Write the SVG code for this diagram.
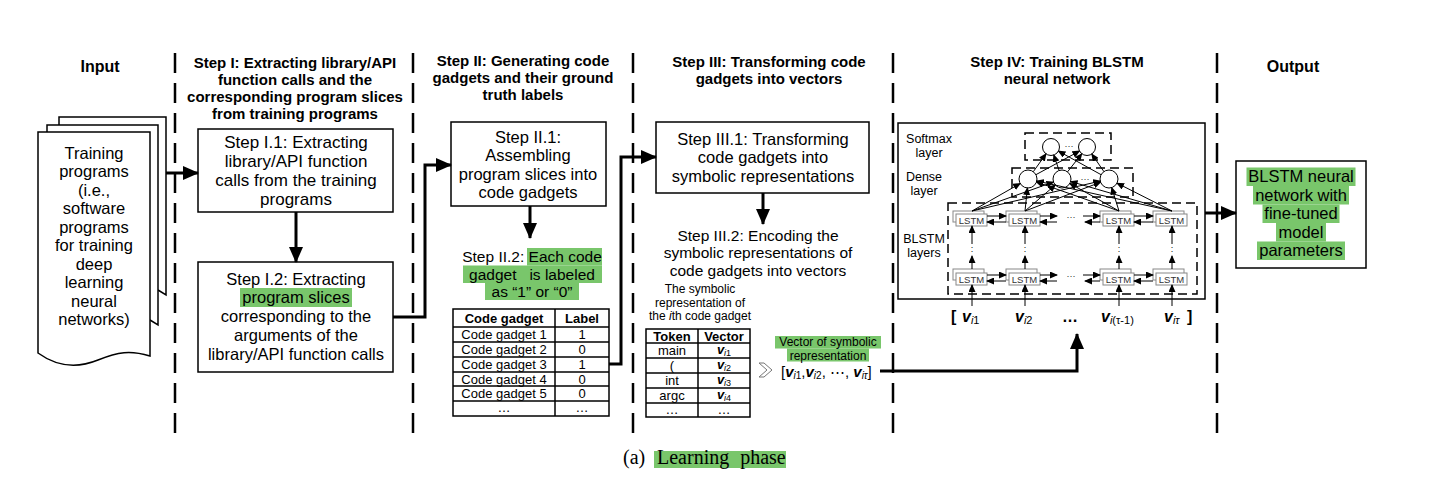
<svg xmlns="http://www.w3.org/2000/svg" width="1448" height="488" viewBox="0 0 1448 488">
<style>
text{font-family:"Liberation Sans",Arial,sans-serif;fill:#000}
.t{font-size:16.5px;text-anchor:middle}
.t17{font-size:17px;text-anchor:middle}
.t15{font-size:15.5px;text-anchor:middle}
.h{font-size:15px;font-weight:bold;text-anchor:middle}
.h16{font-size:16px;font-weight:bold;text-anchor:middle}
.s{font-size:12px;text-anchor:middle}
.n{font-size:12.5px;text-anchor:middle}
.tb{font-size:13px;text-anchor:middle}
.tbh{font-size:13px;font-weight:bold;text-anchor:middle}
.ls{font-size:9.5px;text-anchor:middle;fill:#333}
.cap{font-family:"Liberation Serif","Times New Roman",serif;font-size:20px}
.box{fill:#fff;stroke:#000;stroke-width:1.5}
.cell{fill:none;stroke:#000;stroke-width:1.5}
.dash{fill:none;stroke:#000;stroke-width:2.5;stroke-dasharray:20 10}
.ndash{fill:none;stroke:#000;stroke-width:1.5;stroke-dasharray:9 5}
.hl{fill:#79c66b}
.conn{fill:none;stroke:#000;stroke-width:3}
.thin{fill:none;stroke:#000;stroke-width:1}
.lstm{fill:#fff;stroke:#888;stroke-width:1}
.circ{fill:#fff;stroke:#000;stroke-width:1}
.vb{font-weight:bold;font-style:italic}
</style>
<defs>
<marker id="ah" markerUnits="userSpaceOnUse" markerWidth="16" markerHeight="14" refX="15" refY="7" orient="auto"><path d="M0,0 L16,7 L0,14 Z" fill="#000"/></marker>
<marker id="sa" markerUnits="userSpaceOnUse" markerWidth="8" markerHeight="7" refX="7" refY="3.5" orient="auto"><path d="M0,0 L8,3.5 L0,7 Z" fill="#000"/></marker>
</defs>

<g id="separators">
<line class="dash" x1="175" y1="53" x2="175" y2="443"/>
<line class="dash" x1="413" y1="53" x2="413" y2="443"/>
<line class="dash" x1="633" y1="53" x2="633" y2="443"/>
<line class="dash" x1="893" y1="53" x2="893" y2="443"/>
<line class="dash" x1="1217" y1="53" x2="1217" y2="443"/>
</g>

<g id="headers">
<text class="h16" x="100" y="72">Input</text>
<text class="h" x="295" y="68">Step I: Extracting library/API</text>
<text class="h" x="295" y="85">function calls and the</text>
<text class="h" x="295" y="102">corresponding program slices</text>
<text class="h" x="295" y="119">from training programs</text>
<text class="h" x="523" y="66">Step II: Generating code</text>
<text class="h" x="523" y="83">gadgets and their ground</text>
<text class="h" x="523" y="100">truth labels</text>
<text class="h" x="769" y="67">Step III: Transforming code</text>
<text class="h" x="769" y="84">gadgets into vectors</text>
<text class="h" x="1057" y="67">Step IV: Training BLSTM</text>
<text class="h" x="1057" y="84">neural network</text>
<text class="h16" x="1293" y="72">Output</text>
</g>

<g id="input-doc">
<path class="box" d="M59,125 V117 H166 V295 L158,290"/>
<path class="box" d="M47,132 V125 H158 V325 L150,320"/>
<path class="box" d="M38,132 H150 V356 C130,350 118,352 98,360 C76,369 56,366 38,353 Z"/>
<text class="t" x="94" y="158.5">Training</text>
<text class="t" x="94" y="177">programs</text>
<text class="t" x="94" y="195.5">(i.e.,</text>
<text class="t" x="94" y="214">software</text>
<text class="t" x="94" y="232.5">programs</text>
<text class="t" x="94" y="251">for training</text>
<text class="t" x="94" y="269.5">deep</text>
<text class="t" x="94" y="288">learning</text>
<text class="t" x="94" y="306.5">neural</text>
<text class="t" x="94" y="325">networks)</text>
</g>

<g id="step-i1">
<rect class="box" x="198" y="129" width="195" height="83"/>
<text class="t17" x="296" y="147.5">Step I.1: Extracting</text>
<text class="t17" x="296" y="166.5">library/API function</text>
<text class="t17" x="296" y="185.5">calls from the training</text>
<text class="t17" x="296" y="204.5">programs</text>
</g>

<g id="step-i2">
<rect class="box" x="198" y="262" width="195" height="110"/>
<rect class="hl" x="240" y="288" width="112" height="19"/>
<text class="t" x="296" y="284.5">Step I.2: Extracting</text>
<text class="t" x="296" y="303.2">program slices</text>
<text class="t" x="296" y="322">corresponding to the</text>
<text class="t" x="296" y="340.7">arguments of the</text>
<text class="t" x="296" y="359.5">library/API function calls</text>
</g>

<g id="step-ii1">
<rect class="box" x="451" y="122" width="155" height="84"/>
<text class="t" x="528" y="142.5">Step II.1:</text>
<text class="t" x="528" y="161">Assembling</text>
<text class="t" x="528" y="179.5">program slices into</text>
<text class="t" x="528" y="198">code gadgets</text>
</g>

<g id="step-ii2">
<rect class="hl" x="527" y="248" width="75" height="17.5"/>
<rect class="hl" x="463" y="265.5" width="139" height="17.5"/>
<rect class="hl" x="485" y="283" width="94" height="17"/>
<text class="t15" x="532" y="262">Step II.2: Each code</text>
<text class="t15" x="532" y="279.5" xml:space="preserve">gadget   is labeled</text>
<text class="t15" x="532" y="297">as “1” or “0”</text>
</g>

<g id="label-table">
<rect class="cell" x="453" y="309" width="156" height="107"/>
<line class="cell" x1="555" y1="309" x2="555" y2="416"/>
<line class="cell" x1="453" y1="327" x2="609" y2="327"/>
<line class="cell" x1="453" y1="342" x2="609" y2="342"/>
<line class="cell" x1="453" y1="357" x2="609" y2="357"/>
<line class="cell" x1="453" y1="372" x2="609" y2="372"/>
<line class="cell" x1="453" y1="386" x2="609" y2="386"/>
<line class="cell" x1="453" y1="401" x2="609" y2="401"/>
<text class="tbh" x="504" y="322.5">Code gadget</text>
<text class="tbh" x="582" y="322.5">Label</text>
<text class="tb" x="504" y="339">Code gadget 1</text><text class="tb" x="582" y="339">1</text>
<text class="tb" x="504" y="354">Code gadget 2</text><text class="tb" x="582" y="354">0</text>
<text class="tb" x="504" y="369">Code gadget 3</text><text class="tb" x="582" y="369">1</text>
<text class="tb" x="504" y="383.5">Code gadget 4</text><text class="tb" x="582" y="383.5">0</text>
<text class="tb" x="504" y="398">Code gadget 5</text><text class="tb" x="582" y="398">0</text>
<text class="tb" x="504" y="412">…</text><text class="tb" x="582" y="412">…</text>
</g>

<g id="step-iii1">
<rect class="box" x="656" y="122" width="213" height="71"/>
<text class="t" x="763" y="144.5">Step III.1: Transforming</text>
<text class="t" x="763" y="163">code gadgets into</text>
<text class="t" x="763" y="181.5">symbolic representations</text>
</g>

<g id="step-iii2">
<text class="t15" x="758" y="240.5">Step III.2: Encoding the</text>
<text class="t15" x="758" y="258">symbolic representations of</text>
<text class="t15" x="758" y="275.5">code gadgets into vectors</text>
<text class="s" x="700" y="293">The symbolic</text>
<text class="s" x="700" y="306.5">representation of</text>
<text class="s" x="700" y="320">the <tspan font-style="italic">i</tspan>th code gadget</text>
</g>

<g id="token-table">
<rect class="cell" x="646" y="329" width="104" height="88"/>
<line class="cell" x1="698" y1="329" x2="698" y2="417"/>
<line class="cell" x1="646" y1="343" x2="750" y2="343"/>
<line class="cell" x1="646" y1="358" x2="750" y2="358"/>
<line class="cell" x1="646" y1="373" x2="750" y2="373"/>
<line class="cell" x1="646" y1="388" x2="750" y2="388"/>
<line class="cell" x1="646" y1="403" x2="750" y2="403"/>
<text class="tbh" x="672" y="340.5">Token</text>
<text class="tbh" x="724" y="340.5">Vector</text>
<text class="tb" x="672" y="355">main</text>
<text class="tb" x="672" y="370">(</text>
<text class="tb" x="672" y="385">int</text>
<text class="tb" x="672" y="400">argc</text>
<text class="tb" x="672" y="414">…</text>
<text class="tb" x="724" y="354"><tspan class="vb">v</tspan><tspan font-size="9" font-style="italic" dy="2">i</tspan><tspan font-size="9">1</tspan></text>
<text class="tb" x="724" y="369"><tspan class="vb">v</tspan><tspan font-size="9" font-style="italic" dy="2">i</tspan><tspan font-size="9">2</tspan></text>
<text class="tb" x="724" y="384"><tspan class="vb">v</tspan><tspan font-size="9" font-style="italic" dy="2">i</tspan><tspan font-size="9">3</tspan></text>
<text class="tb" x="724" y="399"><tspan class="vb">v</tspan><tspan font-size="9" font-style="italic" dy="2">i</tspan><tspan font-size="9">4</tspan></text>
<text class="tb" x="724" y="414">…</text>
</g>

<g id="vector-rep">
<path d="M759,363 H764 L772,370 L764,377 H759 L767,370 Z" fill="#fff" stroke="#777" stroke-width="1"/>
<rect class="hl" x="775" y="336" width="106" height="12.5"/>
<rect class="hl" x="787" y="348.5" width="82" height="13"/>
<text class="s" x="828" y="346">Vector of symbolic</text>
<text class="s" x="828" y="359.5">representation</text>
<text x="781" y="377" font-size="15">[<tspan class="vb">v</tspan><tspan font-size="10" font-style="italic" dy="2">i</tspan><tspan font-size="10">1</tspan><tspan dy="-2">,</tspan><tspan class="vb">v</tspan><tspan font-size="10" font-style="italic" dy="2">i</tspan><tspan font-size="10">2</tspan><tspan dy="-2">, ⋯, </tspan><tspan class="vb">v</tspan><tspan font-size="10" font-style="italic" dy="2">iτ</tspan><tspan dy="-2">]</tspan></text>
</g>

<g id="step-iv-network">
<rect class="box" x="898" y="123" width="307" height="176"/>
<text class="n" x="929" y="143">Softmax</text>
<text class="n" x="929" y="157">layer</text>
<text class="n" x="924" y="181">Dense</text>
<text class="n" x="924" y="195">layer</text>
<text class="n" x="924" y="242.5">BLSTM</text>
<text class="n" x="924" y="256.5">layers</text>
<rect class="ndash" x="1025" y="133" width="86" height="27"/>
<rect class="ndash" x="1012" y="168" width="121" height="29"/>
<rect class="ndash" x="948" y="203" width="249" height="91"/>
<g id="softmax-nodes">
<circle class="circ" cx="1051" cy="147" r="8.5"/>
<circle class="circ" cx="1087" cy="147" r="8.5"/>
<text class="ls" x="1069" y="147" fill="#000">…</text>
</g>
<g id="dense-nodes">
<circle class="circ" cx="1028" cy="179" r="9"/>
<circle class="circ" cx="1062" cy="179" r="9"/>
<circle class="circ" cx="1109" cy="179" r="9"/>
<text class="ls" x="1085" y="180">…</text>
</g>
<g id="lstm-top">
<rect class="lstm" x="953" y="211" width="31" height="11"/><rect class="lstm" x="956" y="214" width="31" height="12"/><text class="ls" x="971.5" y="223.5">LSTM</text>
<rect class="lstm" x="1006" y="211" width="31" height="11"/><rect class="lstm" x="1009" y="214" width="31" height="12"/><text class="ls" x="1024.5" y="223.5">LSTM</text>
<rect class="lstm" x="1100" y="211" width="31" height="11"/><rect class="lstm" x="1103" y="214" width="31" height="12"/><text class="ls" x="1118.5" y="223.5">LSTM</text>
<rect class="lstm" x="1153" y="211" width="31" height="11"/><rect class="lstm" x="1156" y="214" width="31" height="12"/><text class="ls" x="1171.5" y="223.5">LSTM</text>
<text class="ls" x="1071" y="218">…</text>
</g>
<g id="lstm-bottom">
<rect class="lstm" x="953" y="269" width="31" height="11"/><rect class="lstm" x="956" y="273" width="31" height="12"/><text class="ls" x="971.5" y="282.5">LSTM</text>
<rect class="lstm" x="1006" y="269" width="31" height="11"/><rect class="lstm" x="1009" y="273" width="31" height="12"/><text class="ls" x="1024.5" y="282.5">LSTM</text>
<rect class="lstm" x="1100" y="269" width="31" height="11"/><rect class="lstm" x="1103" y="273" width="31" height="12"/><text class="ls" x="1118.5" y="282.5">LSTM</text>
<rect class="lstm" x="1153" y="269" width="31" height="11"/><rect class="lstm" x="1156" y="273" width="31" height="12"/><text class="ls" x="1171.5" y="282.5">LSTM</text>
<text class="ls" x="1071" y="277">…</text>
</g>
<g id="stack-dots" font-size="9" text-anchor="middle">
<text x="972" y="252">:</text><text x="1025" y="252">:</text><text x="1119" y="252">:</text><text x="1172" y="252">:</text>
</g>
<g id="inputs" font-size="16">
<text x="951" y="322" font-weight="bold">[</text>
<text x="962" y="322"><tspan class="vb">v</tspan><tspan font-size="11" font-style="italic" dy="2">i</tspan><tspan font-size="11">1</tspan></text>
<text x="1015" y="322"><tspan class="vb">v</tspan><tspan font-size="11" font-style="italic" dy="2">i</tspan><tspan font-size="11">2</tspan></text>
<text x="1070" y="322" font-weight="bold" text-anchor="middle">…</text>
<text x="1101" y="322"><tspan class="vb">v</tspan><tspan font-size="11" font-style="italic" dy="2">i</tspan><tspan font-size="11">(τ-1)</tspan></text>
<text x="1164" y="322"><tspan class="vb">v</tspan><tspan font-size="11" font-style="italic" dy="2">iτ</tspan></text>
<text x="1187" y="322" font-weight="bold">]</text>
</g>
</g>

<g id="output">
<rect class="box" x="1236" y="161" width="130" height="107"/>
<rect class="hl" x="1246.5" y="167.5" width="109" height="18.5"/>
<rect class="hl" x="1253" y="186" width="96" height="18.5"/>
<rect class="hl" x="1262.5" y="204.5" width="77" height="18.5"/>
<rect class="hl" x="1276" y="223" width="50" height="18.5"/>
<rect class="hl" x="1257" y="241.5" width="88" height="18.5"/>
<text class="t" x="1301" y="182">BLSTM neural</text>
<text class="t" x="1301" y="200.5">network with</text>
<text class="t" x="1301" y="219">fine-tuned</text>
<text class="t" x="1301" y="237.5">model</text>
<text class="t" x="1301" y="256">parameters</text>
</g>

<g id="connectors">
<path class="conn" d="M166,173 H198" marker-end="url(#ah)"/>
<path class="conn" d="M296,212 V262" marker-end="url(#ah)"/>
<path class="conn" d="M393,317 H425 V165 H451" marker-end="url(#ah)"/>
<path class="conn" d="M530,206 V238" marker-end="url(#ah)"/>
<path class="conn" d="M609,364 H621 V157 H656" marker-end="url(#ah)"/>
<path class="conn" d="M763,193 V224" marker-end="url(#ah)"/>
<path class="conn" d="M880,371 H1077 V334" marker-end="url(#ah)"/>
<path class="conn" d="M1205,213 H1236" marker-end="url(#ah)"/>
<g id="net-edges">
<line class="thin" x1="1033.3" y1="171.7" x2="1046" y2="153.9" marker-end="url(#sa)"/>
<line class="thin" x1="1035.9" y1="174.7" x2="1079.5" y2="151.1" marker-end="url(#sa)"/>
<line class="thin" x1="1059.1" y1="170.5" x2="1053.8" y2="155" marker-end="url(#sa)"/>
<line class="thin" x1="1067.5" y1="171.9" x2="1081.8" y2="153.7" marker-end="url(#sa)"/>
<line class="thin" x1="1101.1" y1="174.7" x2="1058.4" y2="151.1" marker-end="url(#sa)"/>
<line class="thin" x1="1103.9" y1="171.6" x2="1091.8" y2="154" marker-end="url(#sa)"/>
<line class="thin" x1="972" y1="211" x2="1020.2" y2="183.5" marker-end="url(#sa)"/>
<line class="thin" x1="972" y1="211" x2="1053.5" y2="182" marker-end="url(#sa)"/>
<line class="thin" x1="972" y1="211" x2="1100.2" y2="181.1" marker-end="url(#sa)"/>
<line class="thin" x1="1025" y1="211" x2="1027.4" y2="188" marker-end="url(#sa)"/>
<line class="thin" x1="1025" y1="211" x2="1055.3" y2="185" marker-end="url(#sa)"/>
<line class="thin" x1="1025" y1="211" x2="1100.6" y2="182.2" marker-end="url(#sa)"/>
<line class="thin" x1="1119" y1="211" x2="1036.5" y2="182" marker-end="url(#sa)"/>
<line class="thin" x1="1119" y1="211" x2="1069.8" y2="183.4" marker-end="url(#sa)"/>
<line class="thin" x1="1119" y1="211" x2="1111.7" y2="187.6" marker-end="url(#sa)"/>
<line class="thin" x1="1172" y1="211" x2="1036.8" y2="181" marker-end="url(#sa)"/>
<line class="thin" x1="1172" y1="211" x2="1070.6" y2="181.5" marker-end="url(#sa)"/>
<line class="thin" x1="1172" y1="211" x2="1117" y2="183.1" marker-end="url(#sa)"/>
</g>
<g id="lstm-edges">
<line class="thin" x1="987" y1="216" x2="1006" y2="216" marker-end="url(#sa)"/>
<line class="thin" x1="1006" y1="222" x2="987" y2="222" marker-end="url(#sa)"/>
<line class="thin" x1="1040" y1="216" x2="1057" y2="216" marker-end="url(#sa)"/>
<line class="thin" x1="1057" y1="222" x2="1040" y2="222" marker-end="url(#sa)"/>
<line class="thin" x1="1083" y1="216" x2="1100" y2="216" marker-end="url(#sa)"/>
<line class="thin" x1="1100" y1="222" x2="1085" y2="222" marker-end="url(#sa)"/>
<line class="thin" x1="1134" y1="216" x2="1153" y2="216" marker-end="url(#sa)"/>
<line class="thin" x1="1153" y1="222" x2="1134" y2="222" marker-end="url(#sa)"/>
<line class="thin" x1="987" y1="275" x2="1006" y2="275" marker-end="url(#sa)"/>
<line class="thin" x1="1006" y1="281" x2="987" y2="281" marker-end="url(#sa)"/>
<line class="thin" x1="1040" y1="275" x2="1057" y2="275" marker-end="url(#sa)"/>
<line class="thin" x1="1057" y1="281" x2="1040" y2="281" marker-end="url(#sa)"/>
<line class="thin" x1="1083" y1="275" x2="1100" y2="275" marker-end="url(#sa)"/>
<line class="thin" x1="1100" y1="281" x2="1085" y2="281" marker-end="url(#sa)"/>
<line class="thin" x1="1134" y1="275" x2="1153" y2="275" marker-end="url(#sa)"/>
<line class="thin" x1="1153" y1="281" x2="1134" y2="281" marker-end="url(#sa)"/>
<line class="thin" x1="972" y1="269" x2="972" y2="256" marker-end="url(#sa)"/>
<line class="thin" x1="1025" y1="269" x2="1025" y2="256" marker-end="url(#sa)"/>
<line class="thin" x1="1119" y1="269" x2="1119" y2="256" marker-end="url(#sa)"/>
<line class="thin" x1="1172" y1="269" x2="1172" y2="256" marker-end="url(#sa)"/>
<line class="thin" x1="972" y1="244" x2="972" y2="226" marker-end="url(#sa)"/>
<line class="thin" x1="1025" y1="244" x2="1025" y2="226" marker-end="url(#sa)"/>
<line class="thin" x1="1119" y1="244" x2="1119" y2="226" marker-end="url(#sa)"/>
<line class="thin" x1="1172" y1="244" x2="1172" y2="226" marker-end="url(#sa)"/>
<line class="thin" x1="972" y1="306" x2="972" y2="285" marker-end="url(#sa)"/>
<line class="thin" x1="1025" y1="306" x2="1025" y2="285" marker-end="url(#sa)"/>
<line class="thin" x1="1119" y1="306" x2="1119" y2="285" marker-end="url(#sa)"/>
<line class="thin" x1="1172" y1="306" x2="1172" y2="285" marker-end="url(#sa)"/>
</g>
</g>

<g id="caption">
<rect class="hl" x="654" y="451" width="132" height="17"/>
<text class="cap" x="623" y="464">(a)</text>
<text class="cap" x="657" y="464" word-spacing="6">Learning phase</text>
</g>
</svg>
